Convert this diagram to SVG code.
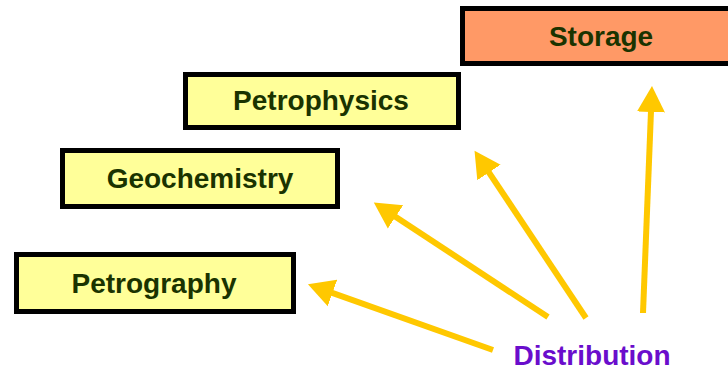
<svg xmlns="http://www.w3.org/2000/svg" width="728" height="371" viewBox="0 0 728 371">
<style>
.box{stroke:#000;stroke-width:5}
.yel{fill:#ffff99}
.org{fill:#ff9966}
.lbl{font-family:"Liberation Sans",Arial,sans-serif;font-weight:bold;font-size:28px;fill:#1a3300;text-anchor:middle}
.dist{font-family:"Liberation Sans",Arial,sans-serif;font-weight:bold;font-size:28px;fill:#6a0dcc;text-anchor:middle}
.arr{stroke:#ffc800;stroke-width:6;fill:none;stroke-linecap:butt}
</style>
<defs>
<marker id="ah" markerUnits="userSpaceOnUse" markerWidth="28" markerHeight="30" refX="1" refY="15" orient="auto">
<path d="M0,1 L26,15 L0,29 z" fill="#ffc800"/>
</marker>
</defs>
<rect width="728" height="371" fill="#fff"/>
<g id="storage">
<rect class="box org" x="462.5" y="8.5" width="270" height="55"/>
<text class="lbl" x="601" y="46">Storage</text>
</g>
<g id="petrophysics">
<rect class="box yel" x="185.5" y="74.5" width="273" height="53"/>
<text class="lbl" x="321" y="110">Petrophysics</text>
</g>
<g id="geochemistry">
<rect class="box yel" x="62.5" y="150.5" width="275" height="56"/>
<text class="lbl" x="200" y="188">Geochemistry</text>
</g>
<g id="petrography">
<rect class="box yel" x="16.5" y="254.5" width="277" height="57"/>
<text class="lbl" x="154" y="293">Petrography</text>
</g>
<g id="distribution">
<text class="dist" x="592" y="365">Distribution</text>
</g>
<g id="connectors">
<line class="arr" x1="493" y1="350" x2="331.5" y2="292.7" marker-end="url(#ah)"/>
<line class="arr" x1="548" y1="317" x2="394.7" y2="216.3" marker-end="url(#ah)"/>
<line class="arr" x1="586" y1="318" x2="488.4" y2="171.6" marker-end="url(#ah)"/>
<line class="arr" x1="643" y1="313" x2="651" y2="111" marker-end="url(#ah)"/>
</g>
</svg>
